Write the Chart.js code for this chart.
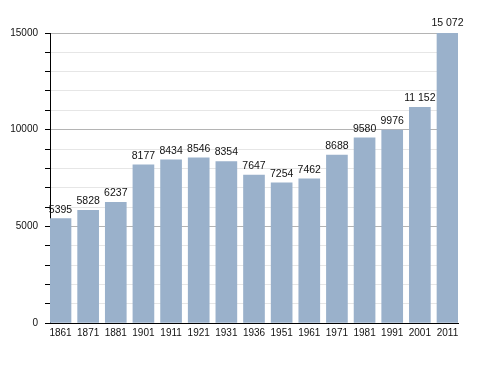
<!DOCTYPE html>
<html>
<head>
<meta charset="utf-8">
<script src="https://cdn.jsdelivr.net/npm/chart.js@4.4.1/dist/chart.umd.min.js"></script>
<style>
  html, body { margin: 0; padding: 0; background: #fff; }
  #wrap { width: 488px; height: 373px; position: relative; }
</style>
</head>
<body>
<div id="wrap"><canvas id="chart"></canvas></div>
<script>
  // census years and population counts
  const years = ["1861", "1871", "1881", "1901", "1911", "1921", "1931", "1936",
                 "1951", "1961", "1971", "1981", "1991", "2001", "2011"];
  const population = [5395, 5828, 6237, 8177, 8434, 8546, 8354, 7647,
                      7254, 7462, 8688, 9580, 9976, 11152, 15072];
  const yMajorTicks = [0, 5000, 10000, 15000];

  const BAR_COLOR = "#9ab1cb";
  const FONT = "'Liberation Sans', Arial, sans-serif";

  function formatValue(v) {
    // thousands separated by a space only from 10 000 up
    return v >= 10000 ? String(v).replace(/\B(?=(\d{3})+(?!\d))/g, " ") : String(v);
  }

  const valueLabels = {
    id: "valueLabels",
    afterDatasetsDraw(chart) {
      const ctx = chart.ctx;
      const meta = chart.getDatasetMeta(0);
      ctx.save();
      ctx.font = "10.5px " + FONT;
      ctx.fillStyle = "#111";
      ctx.textAlign = "center";
      ctx.textBaseline = "alphabetic";
      meta.data.forEach((bar, i) => {
        ctx.fillText(formatValue(population[i]), bar.x, bar.y - 6);
      });
      ctx.restore();
    }
  };

  new Chart(document.getElementById("chart"), {
    type: "bar",
    data: {
      datasets: [{
        data: population.map((v, i) => ({ x: i, y: v })),
        backgroundColor: BAR_COLOR,
        borderWidth: 0,
        barThickness: 21
      }]
    },
    options: {
      responsive: true,
      maintainAspectRatio: false,
      animation: false,
      layout: { padding: { top: 33, right: 30, bottom: 30, left: 0 } },
      plugins: { legend: { display: false }, tooltip: { enabled: false } },
      scales: {
        x: {
          type: "linear",
          offset: false,
          min: -0.38,
          max: 14.38,
          afterFit: (s) => { s.height = 20; },
          afterBuildTicks: (s) => { s.ticks = years.map((_, i) => ({ value: i })); },
          grid: { display: false, drawTicks: false },
          border: { display: true, color: "#000", width: 1 },
          ticks: {
            padding: 4,
            color: "#111",
            font: { size: 10, family: FONT },
            maxRotation: 0,
            autoSkip: false,
            callback: (v) => years[v]
          }
        },
        y: {
          min: 0,
          max: 15000,
          afterFit: (s) => { s.width = 50; },
          ticks: {
            stepSize: 1000,
            padding: 7,
            color: "#111",
            font: { size: 10, family: FONT },
            callback: (v) => (yMajorTicks.includes(v) ? String(v) : "")
          },
          grid: {
            color: (c) => (yMajorTicks.includes(c.tick.value) ? "#b4b4b4" : "#e6e6e6"),
            tickColor: "#000",
            tickLength: 5
          },
          border: { display: true, color: "#000", width: 1 }
        }
      }
    },
    plugins: [valueLabels]
  });
</script>
</body>
</html>
